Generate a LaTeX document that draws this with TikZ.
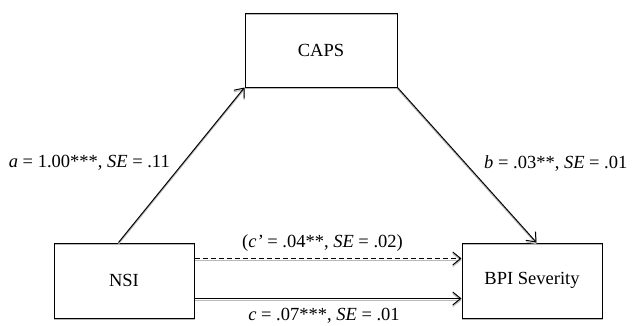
\documentclass[tikz,border=0pt]{standalone}
\usepackage{fontspec}
\setmainfont{Liberation Serif}
\usetikzlibrary{arrows.meta}
\tikzset{
  x=1pt, y=-1pt,
  shadowline/.style={preaction={draw=black!28, line width=1pt, transform canvas={yshift=-1.6pt}}},
  varbox/.style={draw=black, line width=1pt, rectangle, inner sep=0pt, shadowline,
    font=\fontsize{18.5}{22}\selectfont},
  pathlbl/.style={inner sep=0pt, font=\fontsize{18.5}{22}\selectfont},
  link/.style={draw=black, line width=1pt, shadowline,
    -{Straight Barb[length=8pt,width=13pt,line width=1pt]}},
}
\begin{document}
\begin{tikzpicture}
\useasboundingbox (0,0) rectangle (634,325);
\node[varbox, minimum width=152pt, minimum height=74pt] (CAPS) at (321,50) {CAPS};
\node[varbox, minimum width=140pt, minimum height=75pt] (NSI) at (124,280.5) {NSI};
\node[varbox, minimum width=140pt, minimum height=75pt] (BPI) at (532,280.5) {BPI Severity};

\draw[link] ([xshift=65pt]NSI.north west) -- (CAPS.south west);
\draw[link] (CAPS.south east) -- ([xshift=75pt]BPI.north west);
\draw[link, dash pattern=on 5pt off 3pt] ([yshift=-16pt]NSI.north east) -- ([yshift=-16pt]BPI.north west);
\draw[link] ([yshift=20pt]NSI.south east) -- ([yshift=20pt]BPI.south west);

\node[pathlbl, anchor=east] (la) at (170,163) {\textit{a} = 1.00***, \textit{SE} = .11};
\node[pathlbl, anchor=west] (lb) at (484,163) {\textit{b} = .03**, \textit{SE} = .01};
\node[pathlbl] (lcp) at (322.5,243) {(\textit{c’} = .04**, \textit{SE} = .02)};
\node[pathlbl] (lc) at (324,316) {\textit{c} = .07***, \textit{SE} = .01};
\end{tikzpicture}
\end{document}
